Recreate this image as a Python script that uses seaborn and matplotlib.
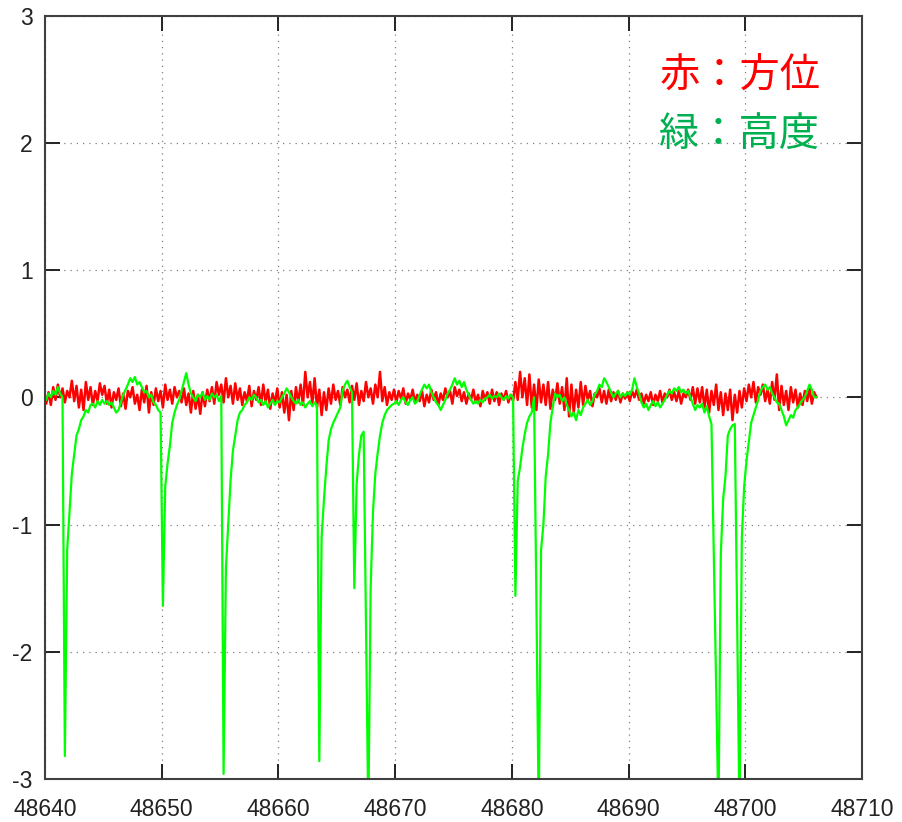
import numpy as np
import pandas as pd
import matplotlib
matplotlib.use('Agg')
import matplotlib.pyplot as plt
import seaborn as sns

# sample times: 48640.1 .. 48706.1 every 0.2 s
t_start = 48640.1
t_step = 0.2

azimuth = [
    -0.05, 0.04, -0.06, 0.08, -0.02, 0.1, 0.0, 0.07, -0.04, 0.05,
    0.0, 0.13, -0.03, 0.09, -0.08, 0.06, -0.1, 0.12, -0.02, 0.08,
    -0.06, 0.05, -0.03, 0.11, 0.02, 0.09, -0.05, 0.06, -0.08, 0.04,
    -0.02, 0.07, -0.07, 0.03, -0.09, 0.05, 0.0, 0.08, -0.05, 0.02,
    -0.1, 0.06, -0.04, 0.09, -0.12, 0.04, -0.06, 0.07, -0.03, 0.05,
    -0.08, 0.1, -0.02, 0.06, -0.05, 0.08, 0.0, 0.05, -0.04, 0.07,
    -0.06, 0.03, -0.12, 0.05, -0.09, 0.02, -0.13, 0.04, -0.07, 0.06,
    -0.03, 0.08, -0.05, 0.12, 0.02, 0.1, -0.04, 0.15, 0.0, 0.09,
    -0.05, 0.11, -0.02, 0.07, -0.06, 0.04, -0.03, 0.09, -0.07, 0.05,
    -0.02, 0.08, -0.06, 0.1, -0.04, 0.06, -0.09, 0.03, -0.05, 0.07,
    -0.08, 0.04, -0.12, 0.02, -0.18, 0.05, -0.1, 0.08, -0.04, 0.1,
    -0.06, 0.2, 0.0, 0.12, -0.05, 0.15, -0.08, 0.06, -0.14, 0.04,
    -0.1, 0.07, -0.05, 0.1, -0.02, 0.05, -0.06, 0.08, 0.0, 0.06,
    -0.04, 0.09, -0.02, 0.11, -0.06, 0.05, -0.03, 0.12, 0.0, 0.07,
    -0.05, 0.1, 0.0, 0.2, -0.03, 0.08, -0.06, 0.04, -0.02, 0.06,
    -0.04, 0.05, -0.01, 0.07, -0.05, 0.03, -0.02, 0.06, -0.04, 0.02,
    -0.03, 0.05, -0.07, 0.02, -0.04, 0.06, -0.02, 0.04, -0.06, 0.03,
    -0.02, 0.07, 0.0, 0.05, -0.05, 0.08, 0.01, 0.06, -0.03, 0.04,
    -0.05, 0.03, -0.02, 0.06, -0.04, 0.02, -0.07, 0.05, -0.02, 0.04,
    -0.05, 0.06, -0.03, 0.04, -0.06, 0.03, -0.02, 0.05, -0.04, 0.02,
    -0.03, 0.12, -0.02, 0.2, 0.0, 0.15, -0.06, 0.18, -0.08, 0.1,
    -0.1, 0.14, -0.04, 0.1, -0.06, 0.12, -0.09, 0.06, -0.02, 0.11,
    -0.05, 0.08, -0.1, 0.15, -0.15, 0.1, -0.12, 0.06, -0.08, 0.12,
    -0.06, 0.09, -0.02, 0.05, -0.07, 0.03, 0.0, 0.07, -0.04, 0.05,
    -0.05, 0.06, -0.03, 0.04, -0.02, 0.05, -0.04, 0.03, -0.01, 0.04,
    -0.03, 0.05, 0.0, 0.06, -0.02, 0.03, -0.05, 0.02, -0.03, 0.04,
    -0.06, 0.02, -0.03, 0.05, -0.04, 0.03, 0.0, 0.06, -0.02, 0.04,
    -0.03, 0.05, -0.05, 0.03, 0.0, 0.06, -0.02, 0.08, -0.05, 0.07,
    -0.04, 0.08, -0.08, 0.06, -0.12, 0.05, -0.06, 0.1, -0.1, 0.04,
    -0.14, 0.03, -0.1, 0.06, -0.18, 0.02, -0.12, 0.05, -0.08, 0.07,
    -0.03, 0.1, 0.0, 0.12, -0.04, 0.08, 0.02, 0.1, -0.03, 0.06,
    -0.05, 0.12, -0.02, 0.18, -0.1, 0.09, -0.06, 0.05, -0.1, 0.08,
    -0.04, 0.06, -0.08, 0.03, -0.06, 0.05, -0.03, 0.07, -0.05, 0.04,
    0.0,
]

elevation = [
    -0.02, 0.03, 0.0, 0.05, 0.02, 0.08, 0.03, 0.0, -2.82, -1.2,
    -0.9, -0.6, -0.45, -0.3, -0.25, -0.18, -0.15, -0.1, -0.12, -0.06,
    -0.05, -0.08, -0.03, -0.06, -0.02, -0.05, -0.03, -0.06, -0.04, -0.08,
    -0.12, -0.1, -0.04, 0.02, 0.06, 0.1, 0.15, 0.12, 0.16, 0.1,
    0.12, 0.08, 0.04, 0.05, 0.0, 0.02, -0.04, -0.06, -0.1, -0.12,
    -1.64, -0.7, -0.52, -0.38, -0.2, -0.12, -0.06, -0.02, 0.05, 0.12,
    0.19, 0.1, 0.03, 0.0, -0.03, 0.02, 0.0, 0.04, -0.02, 0.01,
    -0.02, 0.03, 0.0, 0.02, -0.03, 0.01, -2.96, -1.34, -0.99, -0.65,
    -0.42, -0.3, -0.18, -0.12, -0.1, -0.06, -0.04, 0.0, -0.02, 0.02,
    0.0, -0.04, -0.02, -0.06, -0.03, -0.08, -0.05, -0.02, -0.06, -0.03,
    -0.04, 0.0, 0.03, 0.07, 0.04, 0.0, -0.03, -0.05, -0.02, -0.06,
    -0.04, -0.08, -0.05, -0.03, -0.07, -0.04, -0.06, -2.86, -1.1, -0.8,
    -0.55, -0.34, -0.25, -0.2, -0.16, -0.12, -0.08, 0.05, 0.1, 0.13,
    0.08, 0.04, -1.5, -0.68, -0.45, -0.3, -0.27, -1.78, -3.3, -1.5,
    -0.9, -0.6, -0.44, -0.3, -0.2, -0.14, -0.1, -0.08, -0.06, -0.05,
    -0.03, -0.06, -0.02, 0.0, -0.04, -0.06, -0.02, 0.0, -0.05, -0.03,
    0.02, 0.06, 0.1, 0.07, 0.1, 0.04, 0.0, -0.04, -0.06, -0.1,
    -0.06, -0.02, 0.03, 0.06, 0.1, 0.15, 0.1, 0.13, 0.08, 0.12,
    0.06, 0.02, -0.02, -0.05, -0.03, -0.05, -0.02, -0.04, -0.01, 0.0,
    0.02, -0.01, 0.01, 0.0, 0.03, 0.0, -0.02, 0.01, -0.01, 0.02,
    0.0, -1.56, -0.66, -0.55, -0.4, -0.29, -0.2, -0.15, -0.12, 0.0,
    -1.6, -3.3, -1.2, -1.0, -0.62, -0.45, -0.2, -0.08, 0.03, 0.0,
    0.02, -0.03, 0.0, -0.06, -0.1, -0.15, -0.12, -0.18, -0.1, -0.14,
    -0.08, -0.05, -0.02, -0.06, -0.03, 0.02, 0.05, 0.1, 0.08, 0.15,
    0.12, 0.08, 0.04, 0.0, 0.03, 0.05, 0.0, 0.03, 0.01, 0.04,
    0.02, 0.06, 0.15, 0.08, 0.03, -0.04, -0.08, -0.05, -0.1, -0.06,
    -0.03, -0.07, -0.04, -0.08, -0.05, -0.02, 0.02, 0.05, 0.03, 0.07,
    0.05, 0.08, 0.04, 0.06, 0.03, 0.05, 0.0, -0.05, -0.1, -0.06,
    -0.08, -0.05, -0.12, -0.07, -0.15, -0.21, -1.24, -2.27, -3.3, -1.23,
    -0.8, -0.62, -0.3, -0.25, -0.22, -0.21, -1.75, -3.3, -1.1, -0.7,
    -0.5, -0.35, -0.2, -0.14, -0.08, -0.02, 0.05, 0.08, 0.1, 0.06,
    0.08, 0.03, 0.0, -0.04, -0.05, -0.1, -0.15, -0.22, -0.18, -0.14,
    -0.16, -0.1, -0.08, -0.05, -0.02, 0.0, 0.05, 0.1, 0.06, 0.0,
    0.0,
]

x_ticks = [48640, 48650, 48660, 48670, 48680, 48690, 48700, 48710]
y_ticks = [-3, -2, -1, 0, 1, 2, 3]

t = t_start + t_step * np.arange(len(azimuth))
df = pd.DataFrame({'t': t, 'azimuth': azimuth, 'elevation': elevation[:len(azimuth)]})

sns.set_style('ticks')
plt.rcParams['font.family'] = ['Liberation Sans', 'DejaVu Sans']
plt.rcParams['axes.unicode_minus'] = False

fig = plt.figure(figsize=(9.02, 8.22), dpi=100)
ax = fig.add_axes([0.0499, 0.0523, 0.9058, 0.9287])

sns.lineplot(data=df, x='t', y='azimuth', color='#ff0000', linewidth=1.8, ax=ax, estimator=None, sort=False)
sns.lineplot(data=df, x='t', y='elevation', color='#00ff00', linewidth=1.6, ax=ax, estimator=None, sort=False)

ax.set_xlim(48640, 48710)
ax.set_ylim(-3, 3)
ax.set_xticks(x_ticks)
ax.set_yticks(y_ticks)
ax.set_xlabel('')
ax.set_ylabel('')
ax.grid(True, linestyle=(0, (1, 4)), color='#808080', linewidth=0.9)
ax.tick_params(direction='in', length=11, width=1.4, top=True, right=True,
               labelsize=16.5, colors='#222222')
ax.tick_params(axis='y', pad=9)
ax.tick_params(axis='x', pad=14)
for s in ax.spines.values():
    s.set_visible(True)
    s.set_linewidth(1.5)
    s.set_color('#404040')

ax.text(0.752, 0.921, '赤：方位', transform=ax.transAxes, color='#ff0000',
        fontsize=29, family=['Noto Sans CJK JP', 'DejaVu Sans'], va='center', ha='left')
ax.text(0.752, 0.845, '緑：高度', transform=ax.transAxes, color='#00b050',
        fontsize=29, family=['Noto Sans CJK JP', 'DejaVu Sans'], va='center', ha='left')

fig.savefig('out.png', dpi=100)
